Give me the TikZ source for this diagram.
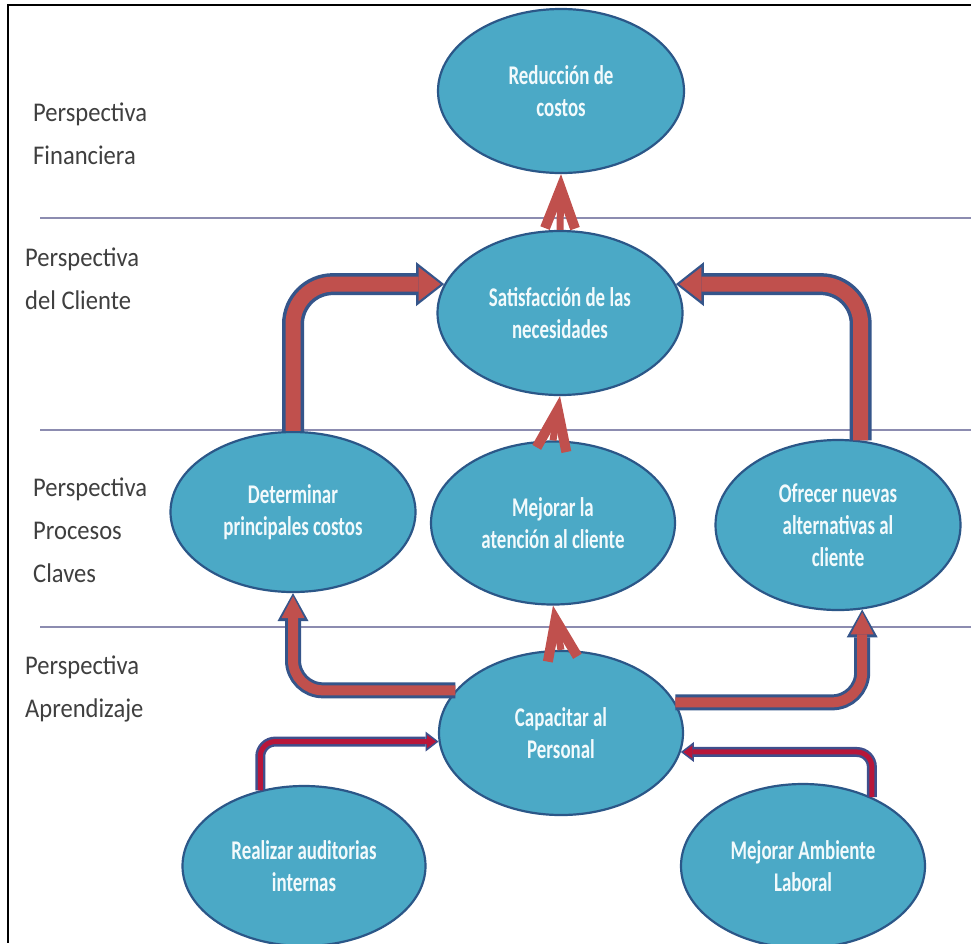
\documentclass[tikz,border=0pt]{standalone}
\usepackage{fontspec}
\setmainfont{Carlito}
\newfontfamily\ovalfont[FakeStretch=0.70]{Carlito}
\newfontfamily\lblfont[FakeStretch=0.91]{Carlito}
\usetikzlibrary{shapes.geometric,arrows.meta}

\definecolor{ovalfill}{HTML}{4BA9C6}
\definecolor{ovalline}{HTML}{2B5788}
\definecolor{ovaltext}{HTML}{F2FAFC}
\definecolor{arrowred}{HTML}{C0504D}
\definecolor{arrowblue}{HTML}{35558A}
\definecolor{thinred}{HTML}{B8163A}
\definecolor{thinblue}{HTML}{3E4F8C}
\definecolor{sepline}{HTML}{8C8CB0}
\definecolor{labelgray}{HTML}{3F3F3F}

\tikzset{
  oval/.style={ellipse, draw=ovalline, line width=2.2pt, fill=ovalfill,
    text=ovaltext, inner sep=0pt, align=center,
    font=\ovalfont\bfseries\fontsize{27}{32}\selectfont},
  persp/.style={anchor=west, align=left, inner sep=0pt, text=labelgray,
    font=\lblfont\fontsize{27}{43}\selectfont},
  sep/.style={draw=sepline, line width=1.3pt},
  bigarrow/.style={draw=arrowred, line width=15pt, rounded corners=40pt,
    -{Triangle[length=22pt,width=34pt,line width=0pt]}, shorten >=3.5pt,
    preaction={draw=arrowblue, line width=22pt, shorten >=0pt,
      -{Triangle[length=28pt,width=44pt,line width=0pt]}}},
  midarrow/.style={draw=arrowred, line width=10pt, rounded corners=30pt,
    -{Triangle[length=22pt,width=23pt,line width=0pt]}, shorten >=3pt,
    preaction={draw=arrowblue, line width=16pt, shorten >=0pt,
      -{Triangle[length=28pt,width=31pt,line width=0pt]}}},
  thinarrow/.style={draw=thinred, line width=5pt, rounded corners=15pt,
    -{Triangle[length=9pt,width=13pt,line width=0pt]}, shorten >=2.5pt,
    preaction={draw=thinblue, line width=10pt, shorten >=0pt,
      -{Triangle[length=13pt,width=20pt,line width=0pt]}}},
  smallarrow/.style={draw=arrowred, line width=7pt,
    -{Straight Barb[length=40pt,width=30pt,line width=10pt]}},
}

\begin{document}
\begin{tikzpicture}[x=1pt,y=-1pt]
\useasboundingbox (0,0) rectangle (971,943);
\fill[white] (0,0) rectangle (971,943);

% frame
\draw[line width=2.4pt, black] (971,5) -- (8,5) -- (8,943);

% band separators
\draw[sep] (40,218) -- (971,218);
\draw[sep] (40,430) -- (971,430);
\draw[sep] (40,627) -- (971,627);

% perspective labels
\node[persp] (lfin) at (33,134) {Perspectiva\\Financiera};
\node[persp] (lcli) at (25,279) {Perspectiva\\del Cliente};
\node[persp] (lpro) at (33,530) {Perspectiva\\Procesos\\Claves};
\node[persp] (lapr) at (25,689) {Perspectiva\\Aprendizaje};

% objectives
\node[oval, minimum width=246pt, minimum height=164pt] (red) at (561,91) {Reducción de\\costos};
\node[oval, minimum width=245pt, minimum height=164pt] (sat) at (560,313) {Satisfacción de las\\necesidades};
\node[oval, minimum width=245pt, minimum height=160pt] (det) at (293,512) {Determinar\\principales costos};
\node[oval, minimum width=244pt, minimum height=163pt] (mej) at (553,523) {Mejorar la\\atención al cliente};
\node[oval, minimum width=245pt, minimum height=170pt] (ofr) at (838,525) {Ofrecer nuevas\\alternativas al\\cliente};
\node[oval, minimum width=244pt, minimum height=164pt] (cap) at (561,733) {Capacitar al\\Personal};
\node[oval, minimum width=243pt, minimum height=160pt] (rea) at (304,866) {Realizar auditorias\\internas};
\node[oval, minimum width=244pt, minimum height=164pt] (amb) at (803,866) {Mejorar Ambiente\\Laboral};

% cause-effect links
\draw[bigarrow] (det.north) |- (sat.166);
\draw[bigarrow] (ofr.75) |- (sat.14);
\draw[midarrow] (cap.158) -| (det.south);
\draw[midarrow] (cap.15) -| (ofr.-74);
\draw[thinarrow] (rea.120) |- (cap.184);
\draw[thinarrow] (amb.45) |- (cap.-9);
\draw[smallarrow] (sat.north) -- (red.south);
\draw[smallarrow] (mej.north) -- (sat.south);
\draw[smallarrow] (cap.north) -- (mej.south);
\end{tikzpicture}
\end{document}
